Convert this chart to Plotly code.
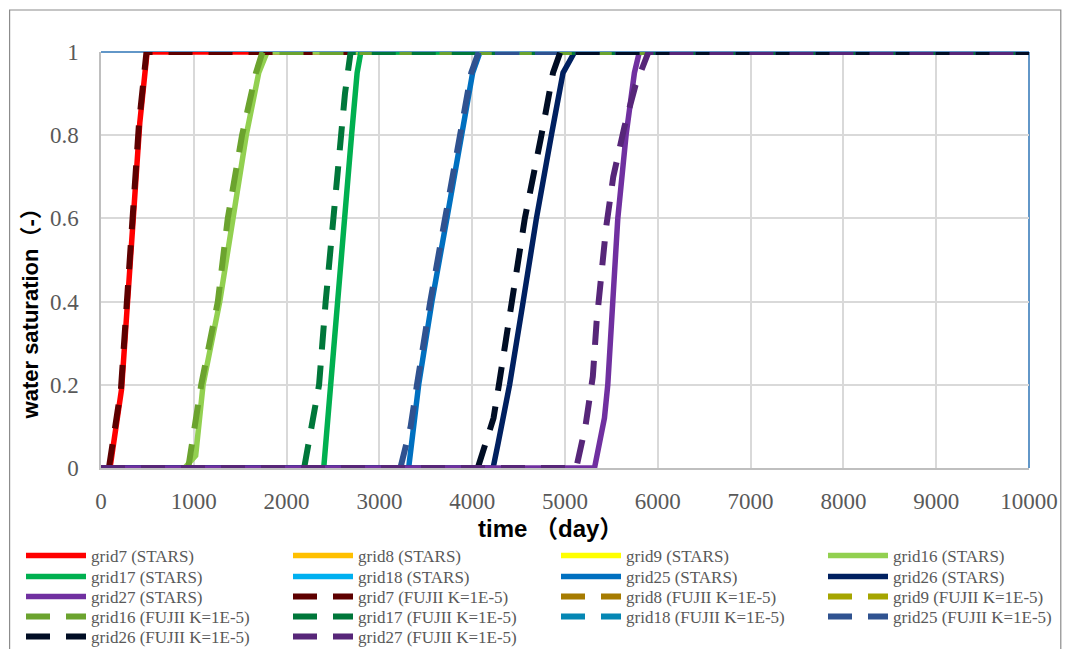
import plotly.graph_objects as go

# time (day) / water saturation (-) for each grid cell
g7_stars_t = [0, 97, 222, 418, 497, 10000]
g7_stars_s = [0, 0, 0.19, 0.83, 1, 1]
g8_stars_t = []
g8_stars_s = []
g9_stars_t = []
g9_stars_s = []
g16_stars_t = [0, 900, 1020, 1100, 1280, 1420, 1565, 1700, 1790, 10000]
g16_stars_s = [0, 0, 0.03, 0.2, 0.4, 0.6, 0.8, 0.95, 1, 1]
g17_stars_t = [0, 2400, 2475, 2546, 2618, 2700, 2760, 2800, 10000]
g17_stars_s = [0, 0, 0.2, 0.4, 0.6, 0.8, 0.95, 1, 1]
g18_stars_t = []
g18_stars_s = []
g25_stars_t = [0, 3315, 3423, 3566, 3727, 3880, 4005, 4084, 10000]
g25_stars_s = [0, 0, 0.2, 0.4, 0.6, 0.8, 0.95, 1, 1]
g26_stars_t = [0, 4225, 4280, 4330, 4403, 4549, 4692, 4853, 4979, 5104, 10000]
g26_stars_s = [0, 0, 0.06, 0.12, 0.2, 0.4, 0.6, 0.8, 0.95, 1, 1]
g27_stars_t = [0, 5318, 5425, 5461, 5515, 5569, 5658, 5748, 5801, 10000]
g27_stars_s = [0, 0, 0.12, 0.2, 0.4, 0.6, 0.8, 0.95, 1, 1]

g7_fujii_t = [85, 215, 410, 490, 10000]
g7_fujii_s = [0, 0.19, 0.83, 1, 1]
g8_fujii_t = []
g8_fujii_s = []
g9_fujii_t = []
g9_fujii_s = []
g16_fujii_t = [940, 1080, 1259, 1366, 1520, 1670, 1740, 10000]
g16_fujii_s = [0, 0.2, 0.4, 0.6, 0.8, 0.95, 1, 1]
g17_fujii_t = [2189, 2350, 2421, 2500, 2593, 2629, 2690, 10000]
g17_fujii_s = [0, 0.2, 0.4, 0.6, 0.8, 0.9, 1, 1]
g18_fujii_t = []
g18_fujii_s = []
g25_fujii_t = [3226, 3337, 3405, 3548, 3708, 3862, 3990, 4070, 10000]
g25_fujii_s = [0, 0.1, 0.2, 0.4, 0.6, 0.8, 0.95, 1, 1]
g26_fujii_t = [4060, 4150, 4230, 4288, 4424, 4567, 4746, 4871, 4950, 10000]
g26_fujii_s = [0, 0.06, 0.12, 0.2, 0.4, 0.6, 0.8, 0.95, 1, 1]
g27_fujii_t = [0, 5121, 5220, 5300, 5340, 5383, 5444, 5520, 5640, 5760, 5830, 5900, 10000]
g27_fujii_s = [0, 0, 0.1, 0.22, 0.35, 0.46, 0.58, 0.7, 0.82, 0.92, 0.96, 1, 1]

x_ticks = list(range(0, 10001, 1000))
x_tick_labels = [str(v) for v in x_ticks]
y_ticks = [0, 0.2, 0.4, 0.6, 0.8, 1]
y_tick_labels = ["0", "0.2", "0.4", "0.6", "0.8", "1"]

series = [
    ("grid7 (STARS)", g7_stars_t, g7_stars_s, "#FF0000", "solid"),
    ("grid8 (STARS)", g8_stars_t, g8_stars_s, "#FFC000", "solid"),
    ("grid9 (STARS)", g9_stars_t, g9_stars_s, "#FFFF00", "solid"),
    ("grid16 (STARS)", g16_stars_t, g16_stars_s, "#92D050", "solid"),
    ("grid17 (STARS)", g17_stars_t, g17_stars_s, "#00B050", "solid"),
    ("grid18 (STARS)", g18_stars_t, g18_stars_s, "#00B0F0", "solid"),
    ("grid25 (STARS)", g25_stars_t, g25_stars_s, "#0070C0", "solid"),
    ("grid26 (STARS)", g26_stars_t, g26_stars_s, "#002060", "solid"),
    ("grid27 (STARS)", g27_stars_t, g27_stars_s, "#7030A0", "solid"),
    ("grid7 (FUJII K=1E-5)", g7_fujii_t, g7_fujii_s, "#5E0000", "dash"),
    ("grid8 (FUJII K=1E-5)", g8_fujii_t, g8_fujii_s, "#A67B00", "dash"),
    ("grid9 (FUJII K=1E-5)", g9_fujii_t, g9_fujii_s, "#A5A500", "dash"),
    ("grid16 (FUJII K=1E-5)", g16_fujii_t, g16_fujii_s, "#6BA32E", "dash"),
    ("grid17 (FUJII K=1E-5)", g17_fujii_t, g17_fujii_s, "#00773A", "dash"),
    ("grid18 (FUJII K=1E-5)", g18_fujii_t, g18_fujii_s, "#0587B4", "dash"),
    ("grid25 (FUJII K=1E-5)", g25_fujii_t, g25_fujii_s, "#2F5290", "dash"),
    ("grid26 (FUJII K=1E-5)", g26_fujii_t, g26_fujii_s, "#000D24", "dash"),
    ("grid27 (FUJII K=1E-5)", g27_fujii_t, g27_fujii_s, "#572679", "dash"),
]

W, H = 1070, 649
ML, MR, MT, MB = 101, 35, 52, 181
PW, PH = W - ML - MR, H - MT - MB
row_y = [556, 577, 597, 617, 637]
half_x = [21, 556]
COLS = 4


def legend_key(row, half):
    n = row * 2 + half + 1
    return "legend" if n == 1 else f"legend{n}"


fig = go.Figure()
for i, (name, t, s, color, style) in enumerate(series):
    row, col = divmod(i, COLS)
    fig.add_trace(go.Scatter(
        x=t if t else [None], y=s if s else [None],
        mode="lines", name=name,
        line=dict(color=color, width=6 if style == "dash" else 5.5,
                  dash="24px,16px" if style == "dash" else "solid"),
        legend=legend_key(row, col // 2),
    ))

legend_font = dict(family="Liberation Serif", size=17, color="#595959")
n_rows = (len(series) + COLS - 1) // COLS
layout_legends = {}
for row in range(n_rows):
    for half in range(2):
        layout_legends[legend_key(row, half)] = dict(
            orientation="h", x=half_x[half] / W, xref="container",
            xanchor="left", y=1 - row_y[row] / H, yref="container",
            yanchor="middle", entrywidth=192, entrywidthmode="pixels",
            itemwidth=60, font=legend_font, bgcolor="rgba(0,0,0,0)",
            borderwidth=0, traceorder="normal",
        )

tick_font = dict(family="Liberation Serif", size=23, color="#595959")
title_font = dict(family="Liberation Sans, Noto Sans CJK JP", size=22,
                  color="#000000")
fig.update_layout(
    width=W, height=H,
    margin=dict(l=ML, r=MR, t=MT, b=MB),
    paper_bgcolor="white", plot_bgcolor="white",
    showlegend=True,
    **layout_legends,
    xaxis=dict(range=[0, 10000], tickvals=x_ticks, ticktext=x_tick_labels,
               showgrid=True, gridcolor="#D9D9D9", gridwidth=1.5,
               zeroline=False, showline=True, linecolor="#BFBFBF",
               linewidth=1.5, ticks="", tickfont=tick_font,
               ticklabelstandoff=12),
    yaxis=dict(range=[0, 1], tickvals=y_ticks, ticktext=y_tick_labels,
               showgrid=True, gridcolor="#D9D9D9", gridwidth=1.5,
               zeroline=False, showline=True, linecolor="#BFBFBF",
               linewidth=1.5, ticks="", tickfont=tick_font,
               ticklabelstandoff=16),
    annotations=[
        dict(text="<b>time （day）</b>", xref="paper", yref="paper",
             x=(553 - ML) / PW, y=(H - MB - 528) / PH,
             xanchor="center", yanchor="middle", showarrow=False,
             font=dict(title_font, size=24)),
        dict(text="<b>water saturation（-）</b>", xref="paper", yref="paper",
             x=(30 - ML) / PW, y=(H - MB - 308) / PH,
             xanchor="center", yanchor="middle", showarrow=False,
             textangle=-90, font=title_font),
    ],
    shapes=[
        # plot-area frame: top and right edges
        dict(type="line", xref="paper", yref="paper", x0=0, x1=1, y0=1, y1=1,
             line=dict(color="#2E75B6", width=1.5), layer="below"),
        dict(type="line", xref="paper", yref="paper", x0=1, x1=1, y0=0, y1=1,
             line=dict(color="#2E75B6", width=1.5), layer="below"),
        # chart outer border
        dict(type="rect", xref="paper", yref="paper",
             x0=(9 - ML) / PW, x1=(1067 - ML) / PW,
             y0=(H - MB - 700) / PH, y1=(H - MB - 10) / PH,
             line=dict(color="#8C8C8C", width=1.2), layer="below"),
    ],
)

fig.write_html("out.html")
